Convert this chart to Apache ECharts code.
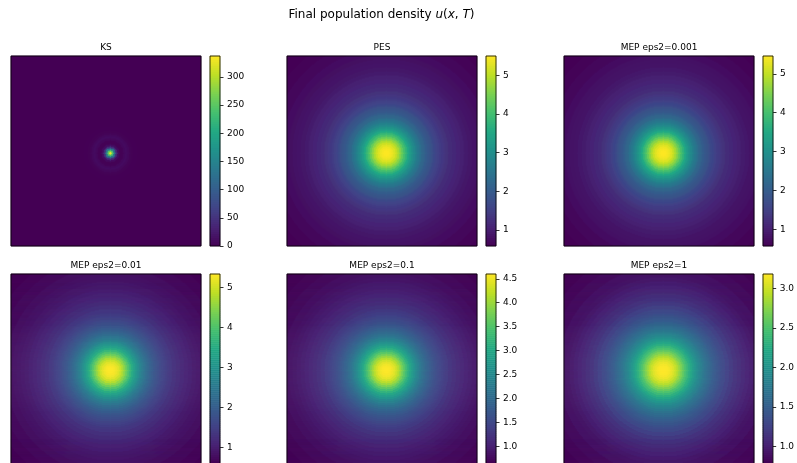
<!DOCTYPE html>
<html><head><meta charset="utf-8">
<script src="https://cdn.jsdelivr.net/npm/echarts@6/dist/echarts.min.js"></script>
<style>html,body{margin:0;padding:0;background:#fff}#c{width:797px;height:463px}</style>
</head><body><div id="c"></div>
<script>
// ---------------- data ----------------
const SUPTITLE = 'Final population density ';
const PANEL_TITLES = ['KS', 'PES', 'MEP eps2=0.001', 'MEP eps2=0.01', 'MEP eps2=0.1', 'MEP eps2=1'];

// radial sample positions (px from blob centre) at which the profiles were read
const RADII = [0,2,4,6,8,10,12,14,16,18,20,22,24,26,28,30,32,34,36,38,40,42,44,46,48,50,52,54,56,58,60,
               64,68,72,76,80,84,88,92,96,100,110,120,130,140];

const KS = [337,250,130,45,12,3,4,9,12,10,6,3,1.5,0.8,0.4,0.2,0.1,
            0,0,0,0,0,0,0,0,0,0,0,0,0,0,
            0,0,0,0,0,0,0,0,0,0,0,0,0,0];
const PES = [5.50,5.49,5.45,5.38,5.26,5.10,4.88,4.62,4.34,4.06,3.79,3.53,3.30,3.08,2.88,2.71,
             2.55,2.41,2.28,2.16,2.05,1.95,1.86,1.78,1.70,1.62,1.55,1.49,1.43,1.38,1.33,
             1.24,1.16,1.09,1.03,0.98,0.93,0.89,0.85,0.81,0.78,0.71,0.65,0.61,0.58];
const MEP_0001 = [5.46,5.45,5.41,5.34,5.23,5.06,4.84,4.59,4.31,4.03,3.76,3.50,3.27,3.05,2.86,2.68,
                  2.53,2.38,2.26,2.14,2.03,1.93,1.84,1.76,1.68,1.61,1.54,1.47,1.42,1.36,1.31,
                  1.23,1.15,1.08,1.02,0.97,0.92,0.87,0.83,0.80,0.77,0.70,0.64,0.60,0.57];
const MEP_001 = [5.34,5.33,5.30,5.24,5.13,4.98,4.78,4.54,4.28,4.02,3.76,3.51,3.28,3.07,2.89,2.71,
                 2.55,2.42,2.29,2.18,2.07,1.97,1.88,1.80,1.73,1.65,1.58,1.52,1.47,1.41,1.36,
                 1.27,1.20,1.13,1.07,1.02,0.96,0.92,0.88,0.85,0.81,0.74,0.69,0.64,0.61];
const MEP_01 = [4.60,4.59,4.57,4.52,4.44,4.32,4.17,3.99,3.79,3.57,3.37,3.16,2.97,2.80,2.64,2.49,
                2.36,2.24,2.13,2.03,1.94,1.86,1.78,1.71,1.64,1.58,1.52,1.47,1.42,1.37,1.33,
                1.25,1.18,1.12,1.07,1.02,0.98,0.94,0.90,0.87,0.84,0.78,0.73,0.69,0.655];
const MEP_1 = [3.18,3.18,3.17,3.15,3.11,3.06,2.99,2.91,2.81,2.71,2.60,2.49,2.39,2.29,2.20,2.10,
               2.02,1.94,1.87,1.81,1.75,1.69,1.64,1.59,1.55,1.49,1.45,1.42,1.38,1.34,1.31,
               1.25,1.19,1.14,1.10,1.06,1.02,0.99,0.96,0.93,0.91,0.87,0.84,0.81,0.79];

const TICKS_KS = ['0','50','100','150','200','250','300'];
const TICKS_PES = ['1','2','3','4','5'];
const TICKS_MEP_0001 = ['1','2','3','4','5'];
const TICKS_MEP_001 = ['1','2','3','4','5'];
const TICKS_MEP_01 = ['1.0','1.5','2.0','2.5','3.0','3.5','4.0','4.5'];
const TICKS_MEP_1 = ['1.0','1.5','2.0','2.5','3.0'];

const PROFILES = [KS, PES, MEP_0001, MEP_001, MEP_01, MEP_1];
const TICKS = [TICKS_KS, TICKS_PES, TICKS_MEP_0001, TICKS_MEP_001, TICKS_MEP_01, TICKS_MEP_1];

// ---------------- layout / style ----------------
const VIRIDIS = ['#440154','#482475','#414487','#355f8d','#2a788e','#21918c','#22a884','#44bf70','#7ad151','#bddf26','#fde725'];
const COL_X = [11, 287, 564];
const ROW_Y = [56, 274];
const SIZE = 190;      // panel size in px
const N = 190;         // cells per side (1px each)
const CELL = SIZE / N;
const CX = 99.5, CY = 97.5; // blob centre within panel (px)
const CB_GAP = 9, CB_W = 10, CB_N = 95;
const FONT = 'DejaVu Sans';

function nearestIndex(r) {
  let best = 0, bd = Infinity;
  for (let k = 0; k < RADII.length; k++) {
    const d = Math.abs(RADII[k] - r);
    if (d < bd) { bd = d; best = k; }
  }
  return best;
}

const idx = Array.from({length: N}, (_, i) => i);
const cbIdx = Array.from({length: CB_N}, (_, i) => i);

const grid = [], xAxis = [], yAxis = [], series = [], visualMap = [], graphic = [];

graphic.push({
  type: 'text', x: 381.5, y: 15, z: 100, silent: true,
  style: {
    text: SUPTITLE + '{i|u}(' + '{i|x}, {i|T})',
    fontSize: 12, fontFamily: FONT, fill: '#000',
    textAlign: 'center', textVerticalAlign: 'middle', align: 'center', verticalAlign: 'middle',
    rich: { i: { fontStyle: 'italic', fontSize: 12, fontFamily: FONT, fill: '#000' } }
  }
});

for (let p = 0; p < 6; p++) {
  const col = p % 3, row = Math.floor(p / 3);
  const left = COL_X[col], top = ROW_Y[row];
  const prof = PROFILES[p];
  const vmin = Math.min(...prof), vmax = Math.max(...prof);
  const ticks = TICKS[p];

  // main panel
  grid.push({ left: left, top: top, width: SIZE, height: SIZE, show: false });
  const gi = grid.length - 1;
  xAxis.push({ type: 'category', gridIndex: gi, data: idx, show: false });
  yAxis.push({ type: 'category', gridIndex: gi, data: idx, show: false, inverse: true });
  const data = [];
  for (let j = 0; j < N; j++) {
    for (let i = 0; i < N; i++) {
      const r = Math.hypot((i + 0.5) * CELL - CX, (j + 0.5) * CELL - CY);
      data.push([i, j, prof[nearestIndex(r)]]);
    }
  }
  series.push({
    type: 'heatmap', xAxisIndex: xAxis.length - 1, yAxisIndex: yAxis.length - 1,
    data: data, progressive: 0, silent: true, itemStyle: { borderWidth: 0 },
    emphasis: { disabled: true }
  });
  graphic.push({
    type: 'rect', z: 100, silent: true,
    shape: { x: left, y: top, width: SIZE, height: SIZE },
    style: { fill: 'none', stroke: '#000', lineWidth: 0.8 }
  });
  graphic.push({
    type: 'text', x: left + SIZE / 2, y: top - 8.5, z: 100, silent: true,
    style: { text: PANEL_TITLES[p], fontSize: 9, fontFamily: FONT, fill: '#000',
      textAlign: 'center', textVerticalAlign: 'middle', align: 'center', verticalAlign: 'middle' }
  });

  // colorbar
  const cbLeft = left + SIZE + CB_GAP;
  grid.push({ left: cbLeft, top: top, width: CB_W, height: SIZE, show: false });
  const cgi = grid.length - 1;
  xAxis.push({ type: 'category', gridIndex: cgi, data: ['c'], show: false });
  yAxis.push({ type: 'category', gridIndex: cgi, data: cbIdx, show: false });
  const cbYIndex = yAxis.length - 1;
  const tickVals = ticks.map(Number);
  yAxis.push({
    type: 'value', gridIndex: cgi, position: 'right', min: vmin, max: vmax,
    axisLine: { show: false }, splitLine: { show: false },
    axisTick: { show: true, length: 3.5, lineStyle: { color: '#000', width: 0.8 }, customValues: tickVals },
    axisLabel: {
      show: true, margin: 7, fontSize: 9, fontFamily: FONT, color: '#000', customValues: tickVals,
      formatter: v => { const t = ticks.find(s => Math.abs(Number(s) - v) < 1e-9); return t === undefined ? '' : t; }
    }
  });
  const cbData = cbIdx.map(k => [0, k, vmin + (k + 0.5) * (vmax - vmin) / CB_N]);
  series.push({
    type: 'heatmap', xAxisIndex: xAxis.length - 1, yAxisIndex: cbYIndex,
    data: cbData, progressive: 0, silent: true, itemStyle: { borderWidth: 0 },
    emphasis: { disabled: true }
  });
  graphic.push({
    type: 'rect', z: 100, silent: true,
    shape: { x: cbLeft, y: top, width: CB_W, height: SIZE },
    style: { fill: 'none', stroke: '#000', lineWidth: 0.8 }
  });

  visualMap.push({
    type: 'continuous', show: false, min: vmin, max: vmax,
    seriesIndex: [series.length - 2, series.length - 1],
    inRange: { color: VIRIDIS }
  });
}

const chart = echarts.init(document.getElementById('c'), null, { renderer: 'canvas' });
chart.setOption({
  animation: false,
  backgroundColor: '#fff',
  grid, xAxis, yAxis, series, visualMap, graphic
});
</script></body></html>
